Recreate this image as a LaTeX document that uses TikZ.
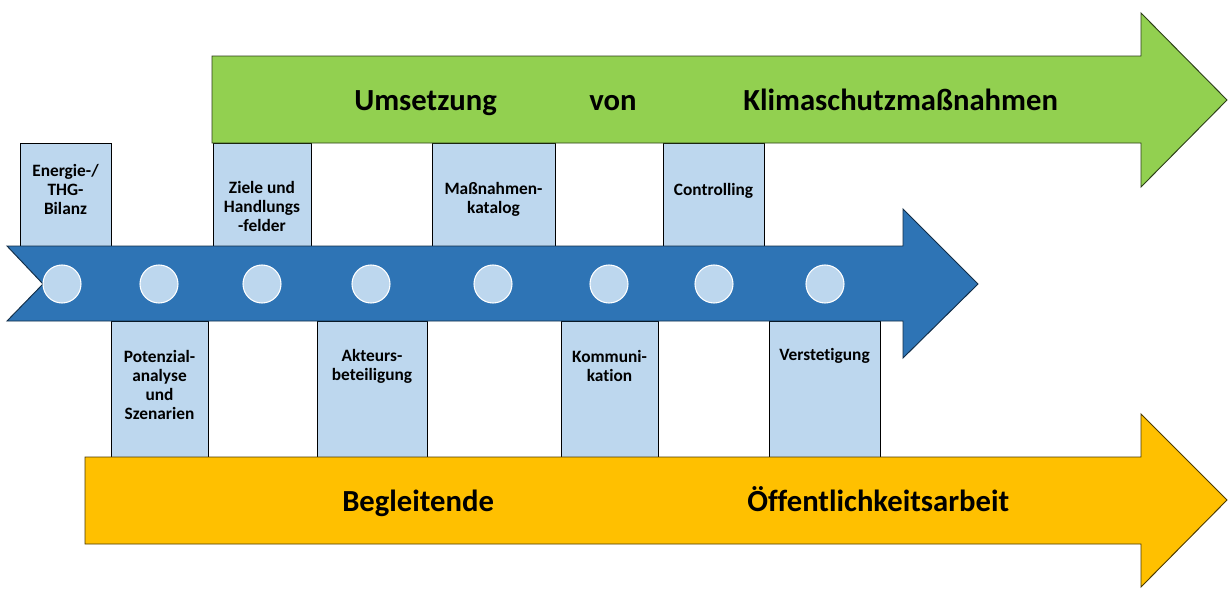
\documentclass[tikz,border=0pt]{standalone}
\usepackage{fontspec}
\setmainfont{Carlito}[Ligatures={NoCommon}]
\definecolor{gr}{HTML}{92D050}
\definecolor{bl}{HTML}{2E74B5}
\definecolor{ye}{HTML}{FFC000}
\definecolor{lb}{HTML}{BDD7EE}
\begin{document}
\begin{tikzpicture}[x=0.75pt,y=-0.75pt,
  boxst/.style={fill=lb,draw=black,line width=0.75pt},
  lbl/.style={align=center,inner sep=0pt,font=\fontsize{13}{14.25}\selectfont\bfseries},
  big/.style={inner sep=0pt,anchor=base west,font=\fontsize{23}{27}\selectfont\bfseries},
  dot/.style={circle,fill=lb,draw=white,line width=0.8pt,minimum size=28.5pt,inner sep=0pt},
  arr/.style={line width=0.7pt,line join=miter}]
\useasboundingbox (0,0) rectangle (1229,603);
\fill[white] (0,0) rectangle (1229,603);
% boxes above
\draw[boxst] (20,143) rectangle (111,246);
\draw[boxst] (213,143) rectangle (311,246);
\draw[boxst] (432,143) rectangle (555,246);
\draw[boxst] (663,143) rectangle (764,246);
% boxes below
\draw[boxst] (111,321) rectangle (208,457);
\draw[boxst] (317,321) rectangle (427,457);
\draw[boxst] (561,321) rectangle (658,457);
\draw[boxst] (769,321) rectangle (880,457);
% arrows
\draw[arr,fill=gr,draw=black!70!gr] (212,56) -- (1141,56) -- (1141,13) -- (1227,100) -- (1141,187) -- (1141,143) -- (212,143) -- cycle;
\draw[arr,fill=ye,draw=black!70!ye] (85,457) -- (1141,457) -- (1141,414) -- (1227,500) -- (1141,587) -- (1141,544) -- (85,544) -- cycle;
\draw[arr,fill=bl,draw=black!60!bl] (7,246) -- (903,246) -- (903,209) -- (978,284) -- (903,358) -- (903,321) -- (7,321) -- (43,284) -- cycle;
% dots
\foreach \i/\x in {1/62,2/159,3/262,4/371,5/493,6/609,7/714,8/825}
  \node[dot] (d\i) at (\x,284) {};
% labels
\node[lbl] (t1) at (65.5,189) {Energie-/\\THG-\\Bilanz};
\node[lbl] (t2) at (262,206) {Ziele und\\Handlungs\\-felder};
\node[lbl] (t3) at (493.5,199) {Maßnahmen-\\katalog};
\node[lbl] (t4) at (713.5,191) {Controlling};
\node[lbl] (b1) at (159.5,385) {Potenzial-\\analyse\\und\\Szenarien};
\node[lbl] (b2) at (372,366) {Akteurs-\\beteiligung};
\node[lbl] (b3) at (609.5,366) {Kommuni-\\kation};
\node[lbl] (b4) at (824.5,356) {Verstetigung};
% big texts
\node[big] (u1) at (354,110) {Umsetzung};
\node[big] (u2) at (589,110) {von};
\node[big] (u3) at (743,110) {Klimaschutzmaßnahmen};
\node[big] (y1) at (342,511) {Begleitende};
\node[big] (y2) at (747,511) {Öffentlichkeitsarbeit};
\end{tikzpicture}
\end{document}
